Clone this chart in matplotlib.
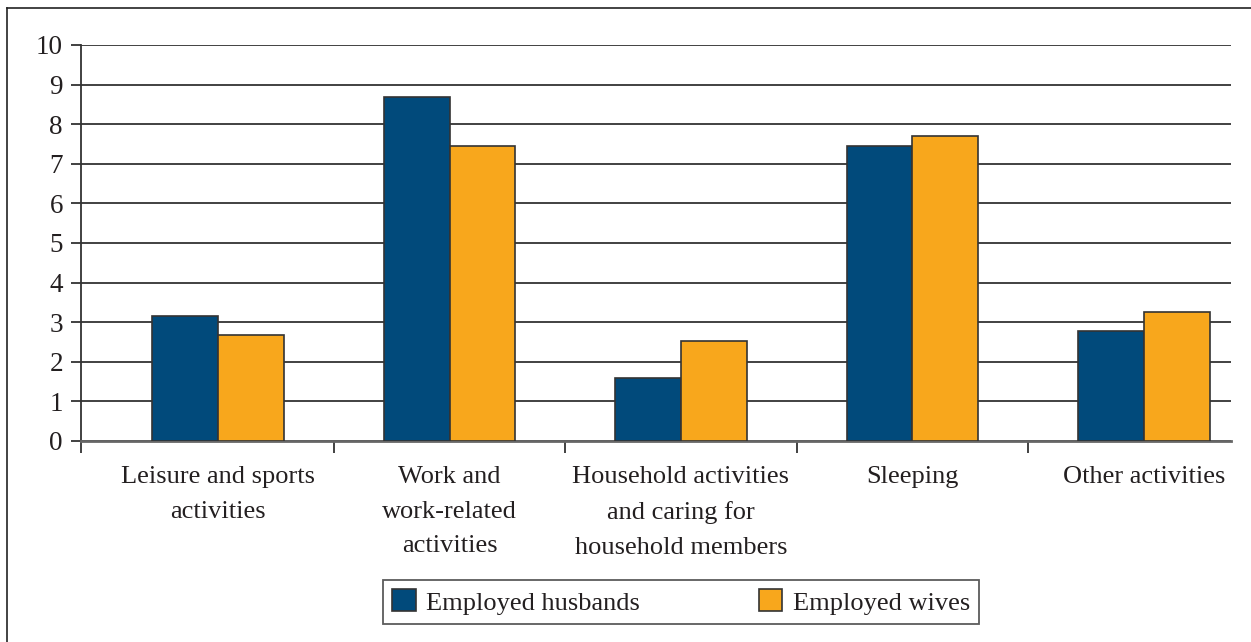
import numpy as np
import matplotlib.pyplot as plt
from matplotlib.lines import Line2D

categories = ["Leisure and sports\nactivities",
              "Work and\nwork-related\nactivities",
              "Household activities\nand caring for\nhousehold members",
              "Sleeping",
              "Other activities"]
husbands = [3.16, 8.69, 1.59, 7.46, 2.77]
wives = [2.67, 7.45, 2.53, 7.70, 3.26]
yticks = list(range(0, 11))

plt.rcParams['font.family'] = ['Liberation Serif', 'DejaVu Serif']

fig = plt.figure(figsize=(12.51, 6.42), dpi=100)
ax = fig.add_axes([81/1251, 1 - 441/642, 1150/1251, 396/642])

ind = np.arange(len(categories))
width = 0.285
ax.bar(ind - width/2, husbands, width, color='#014a7b', edgecolor='#333333',
       linewidth=1.2, label='Employed husbands', zorder=3)
ax.bar(ind + width/2, wives, width, color='#f8a71c', edgecolor='#333333',
       linewidth=1.2, label='Employed wives', zorder=3)

ax.set_ylim(0, 10)
ax.set_xlim(-0.592, 4.376)
ax.set_yticks(yticks)
ax.set_yticklabels([str(t) for t in yticks], fontsize=19.5, color='#231f20')
ax.yaxis.grid(True, color='#333333', linewidth=1.3, zorder=0)
ax.tick_params(axis='y', length=7, width=1.3, color='#333333', pad=6)

ax.set_xticks(ind)
ax.set_xticklabels(categories, fontsize=19, color='#231f20', linespacing=1.75)
ax.tick_params(axis='x', which='major', length=0, pad=18)
ax.set_xticks([-0.592, 0.5, 1.5, 2.5, 3.5], minor=True)
ax.tick_params(axis='x', which='minor', length=8.5, width=1.3, color='#333333')

for s in ['top', 'right']:
    ax.spines[s].set_visible(False)
ax.spines['left'].set_color('#333333')
ax.spines['left'].set_linewidth(1.3)
ax.spines['bottom'].set_color('#666666')
ax.spines['bottom'].set_linewidth(2)

leg = fig.legend(loc='center', bbox_to_anchor=(681/1251, 1 - 602/642), ncol=2,
                 fontsize=19, frameon=True, fancybox=False, edgecolor='#333333',
                 handlelength=0.9, handleheight=0.9, columnspacing=4.5,
                 handletextpad=0.4, borderpad=0.35)
leg.get_frame().set_linewidth(1.3)
for t in leg.get_texts():
    t.set_color('#231f20')

# outer frame, only top and left edges are visible in the crop
fig.add_artist(Line2D([7/1251, 1], [1 - 8/642, 1 - 8/642], transform=fig.transFigure,
                      color='#222222', linewidth=1.2))
fig.add_artist(Line2D([7/1251, 7/1251], [0, 1 - 8/642], transform=fig.transFigure,
                      color='#222222', linewidth=1.2))

fig.savefig('out.png', dpi=100)
